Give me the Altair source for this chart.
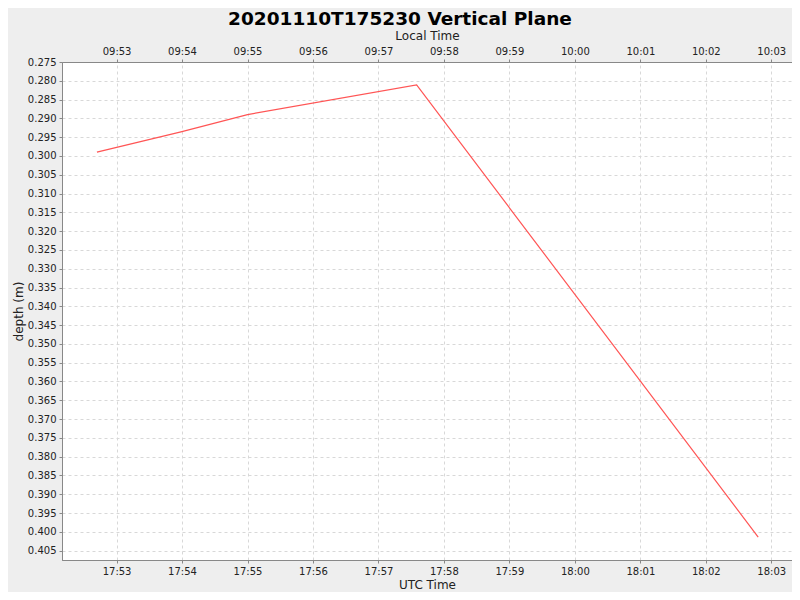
import altair as alt
import pandas as pd

utc_times = ["17:52:42", "17:53:59", "17:55:00", "17:57:35", "18:02:48"]
depths = [0.2990, 0.2936, 0.2890, 0.2811, 0.4014]

x_range = ["17:52:10", "18:03:19"]
x_ticks = ["17:53", "17:54", "17:55", "17:56", "17:57", "17:58", "17:59",
           "18:00", "18:01", "18:02", "18:03"]
y_domain = [0.275, 0.4075]
y_ticks = [round(0.275 + 0.005 * i, 3) for i in range(27)]
utc_offset_hours = -8


def to_min(s):
    parts = [int(p) for p in s.split(":")]
    while len(parts) < 3:
        parts.append(0)
    return parts[0] * 60 + parts[1] + parts[2] / 60.0


df = pd.DataFrame({"minute": [to_min(t) for t in utc_times], "depth": depths})
x_domain = [to_min(t) for t in x_range]
x_tick_vals = [to_min(t) for t in x_ticks]

FONT = "DejaVu Sans"

xscale = alt.Scale(domain=x_domain, nice=False, zero=False)
yscale = alt.Scale(domain=y_domain, reverse=True, nice=False, zero=False)

utc_label = ("pad(floor(datum.value / 60) % 24, 2, '0', 'left') + ':' + "
             "pad(round(datum.value % 60), 2, '0', 'left')")
loc_label = (f"pad(floor((datum.value + 1440 + {utc_offset_hours * 60}) / 60) % 24, 2, '0', 'left') + ':' + "
             "pad(round(datum.value % 60), 2, '0', 'left')")

axis_common = dict(domainColor="#888888", tickColor="#888888", tickSize=3,
                   labelFont=FONT, labelFontSize=10, labelColor="#222222",
                   titleFont=FONT, titleFontSize=12, titleFontWeight="normal",
                   titleColor="#222222", labelPadding=3)

base = alt.Chart(df)

line = base.mark_line(color="#ff5555", strokeWidth=1.2).encode(
    x=alt.X("minute:Q", scale=xscale, title="UTC Time",
            axis=alt.Axis(orient="bottom", values=x_tick_vals, labelExpr=utc_label,
                          grid=True, gridDash=[3, 3], gridColor="#d8d8d8",
                          titlePadding=3, **axis_common)),
    y=alt.Y("depth:Q", scale=yscale, title="depth (m)",
            axis=alt.Axis(values=y_ticks, format=".3f", grid=True, gridDash=[3, 3],
                          gridColor="#d8d8d8", titlePadding=2, **axis_common)),
)

top = base.mark_line(opacity=0).encode(
    x=alt.X("minute:Q", scale=xscale, title="Local Time",
            axis=alt.Axis(orient="top", values=x_tick_vals, labelExpr=loc_label,
                          grid=False, titlePadding=4, **axis_common)),
)

chart = (
    alt.layer(line, top)
    .resolve_scale(x="independent")
    .properties(
        width=730,
        height=498,
        background="#eeeeee",
        padding={"left": 54, "top": 54, "right": 0, "bottom": 32},
        autosize=alt.AutoSizeParams(type="none"),
        title=alt.TitleParams(
            "20201110T175230 Vertical Plane",
            font=FONT, fontSize=18.5, fontWeight="bold", color="#000000",
            anchor="middle", offset=1, dx=-27,
        ),
    )
    .configure_view(fill="white", stroke="#888888")
)

chart.save("out.html", embed_options={"renderer": "svg", "actions": False})
